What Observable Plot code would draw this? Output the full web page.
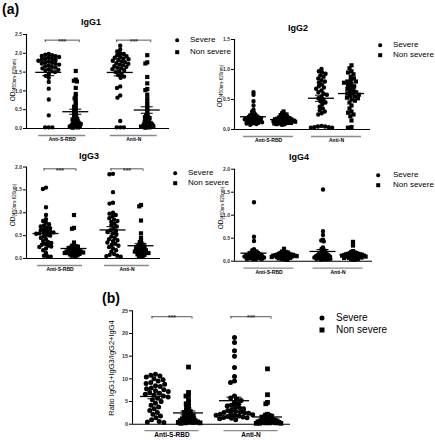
<!DOCTYPE html>
<html><head><meta charset="utf-8">
<script src="https://cdn.jsdelivr.net/npm/d3@7"></script>
<script src="https://cdn.jsdelivr.net/npm/@observablehq/plot@0.6"></script>
<style>
html,body{margin:0;padding:0;background:#fff}
#root{position:relative;width:435px;height:440px;overflow:hidden;font-family:"Liberation Sans",Arial,Helvetica,sans-serif;color:#000;background:#fff}
.c{position:absolute;white-space:nowrap;transform:translate(-50%,-50%);line-height:1}
.l{position:absolute;white-space:nowrap;transform:translateY(-50%);line-height:1}
.r{position:absolute;white-space:nowrap;transform:translate(-50%,-50%) rotate(-90deg);line-height:1}
</style></head><body><div id="root"></div>
<script>
// ---------- categories & labels ----------
const antigens = ["Anti-S-RBD", "Anti-N"];
const severities = ["Severe", "Non severe"];
const panelTitles = ["IgG1", "IgG2", "IgG3", "IgG4"];
const odLabelMain = "OD";
const odLabelSub = "(450nm-620nm)";
const ratioLabel = "Ratio IgG1+IgG3/IgG2+IgG4";
const odTicks_25 = [0, 0.5, 1.0, 1.5, 2.0, 2.5];
const odTicks_15 = [0, 0.5, 1.0, 1.5];
const odTicks_20 = [0, 0.5, 1.0, 1.5, 2.0];
const ratioTicks = [0, 5, 10, 15, 20, 25];
const sig_IgG1 = ["***", "***"];
const sig_IgG3 = ["***", "***"];
const sig_ratio = ["***", "***"];

// ---------- values ----------
const igg1_rbd_severe = [1.98,1.96,1.95,1.93,1.92,1.90,1.88,1.86,1.85,1.83,1.82,1.80,1.78,1.76,1.75,1.73,1.72,1.70,1.68,1.66,1.64,1.62,1.60,1.58,1.56,1.54,1.52,1.50,1.45,1.40,1.35,1.24,1.06,0.77,0.35,0.03,0.03,0.03];
const igg1_rbd_nonsevere = [1.53,1.30,1.27,1.25,1.08,0.92,0.85,0.80,0.75,0.68,0.62,0.58,0.52,0.48,0.44,0.40,0.37,0.34,0.31,0.28,0.26,0.24,0.22,0.20,0.18,0.16,0.15,0.13,0.12,0.10,0.09,0.08,0.07,0.06,0.05,0.04,0.03,0.02];
const igg1_n_severe = [2.20,2.10,2.05,2.00,1.98,1.95,1.92,1.90,1.88,1.86,1.84,1.82,1.80,1.78,1.76,1.74,1.72,1.70,1.68,1.66,1.64,1.62,1.60,1.58,1.55,1.52,1.50,1.45,1.42,1.38,1.35,1.12,1.08,0.88,0.82,0.20,0.03,0.03,0.03];
const igg1_n_nonsevere = [1.95,1.76,1.73,1.37,1.20,1.05,1.02,0.90,0.80,0.72,0.65,0.58,0.52,0.46,0.40,0.35,0.32,0.30,0.28,0.26,0.24,0.22,0.20,0.18,0.16,0.15,0.14,0.12,0.11,0.10,0.09,0.08,0.07,0.06,0.05,0.04,0.03,0.02];

const igg2_rbd_severe = [0.62,0.58,0.47,0.40,0.33,0.30,0.28,0.26,0.25,0.24,0.23,0.22,0.21,0.21,0.20,0.20,0.19,0.19,0.18,0.18,0.17,0.17,0.16,0.16,0.15,0.15,0.14,0.14,0.13,0.13,0.12,0.12,0.11,0.11,0.10,0.10,0.09,0.08];
const igg2_rbd_nonsevere = [0.30,0.27,0.26,0.25,0.24,0.23,0.22,0.21,0.20,0.20,0.19,0.19,0.18,0.18,0.17,0.17,0.16,0.16,0.15,0.15,0.15,0.14,0.14,0.14,0.13,0.13,0.12,0.12,0.12,0.11,0.11,0.10,0.10,0.09,0.09,0.08];
const igg2_n_severe = [1.01,0.97,0.95,0.93,0.90,0.88,0.85,0.82,0.80,0.78,0.75,0.72,0.70,0.68,0.65,0.62,0.60,0.58,0.55,0.52,0.50,0.47,0.45,0.42,0.38,0.35,0.32,0.30,0.27,0.25,0.06,0.05,0.05,0.04,0.04,0.03,0.03];
const igg2_n_nonsevere = [1.07,1.02,0.97,0.95,0.92,0.88,0.85,0.82,0.80,0.80,0.78,0.76,0.74,0.72,0.70,0.68,0.66,0.64,0.62,0.60,0.60,0.58,0.56,0.55,0.53,0.52,0.50,0.48,0.45,0.40,0.35,0.30,0.28,0.25,0.22,0.15,0.04,0.03];

const igg3_rbd_severe = [1.55,1.52,1.12,0.95,0.86,0.82,0.78,0.75,0.72,0.70,0.68,0.66,0.64,0.62,0.60,0.58,0.57,0.56,0.55,0.54,0.52,0.50,0.48,0.45,0.42,0.38,0.36,0.34,0.32,0.30,0.28,0.26,0.25,0.22,0.18,0.12,0.06,0.05,0.04];
const igg3_rbd_nonsevere = [0.95,0.67,0.65,0.35,0.30,0.28,0.27,0.26,0.25,0.24,0.23,0.22,0.21,0.20,0.19,0.18,0.18,0.17,0.16,0.16,0.15,0.15,0.14,0.14,0.13,0.13,0.12,0.12,0.11,0.10,0.10,0.09,0.08,0.07,0.06,0.05];
const igg3_n_severe = [1.85,1.84,1.45,1.22,1.20,1.00,0.98,0.95,0.92,0.88,0.85,0.82,0.80,0.76,0.72,0.70,0.66,0.62,0.60,0.58,0.55,0.52,0.48,0.45,0.42,0.40,0.38,0.35,0.32,0.30,0.28,0.25,0.22,0.18,0.15,0.10,0.08,0.06,0.05,0.04];
const igg3_n_nonsevere = [1.17,1.14,0.83,0.55,0.45,0.40,0.36,0.33,0.31,0.30,0.28,0.27,0.26,0.25,0.24,0.23,0.22,0.21,0.20,0.19,0.18,0.17,0.16,0.15,0.15,0.14,0.13,0.12,0.12,0.11,0.10,0.09,0.08,0.07,0.05,0.04];

const igg4_rbd_severe = [1.28,0.53,0.44,0.26,0.24,0.22,0.21,0.20,0.19,0.18,0.17,0.16,0.16,0.15,0.15,0.14,0.14,0.13,0.13,0.12,0.12,0.11,0.11,0.10,0.10,0.10,0.09,0.09,0.08,0.08,0.07,0.07,0.06,0.06,0.05,0.05,0.04,0.04];
const igg4_rbd_nonsevere = [0.27,0.22,0.21,0.20,0.19,0.18,0.17,0.16,0.16,0.15,0.15,0.14,0.14,0.14,0.13,0.13,0.13,0.12,0.12,0.12,0.11,0.11,0.11,0.10,0.10,0.10,0.09,0.09,0.08,0.08,0.07,0.07,0.06,0.05,0.04,0.03];
const igg4_n_severe = [1.56,0.65,0.57,0.47,0.45,0.43,0.30,0.27,0.25,0.23,0.22,0.20,0.19,0.18,0.17,0.16,0.15,0.15,0.14,0.13,0.13,0.12,0.12,0.11,0.11,0.10,0.10,0.09,0.09,0.08,0.08,0.07,0.07,0.06,0.06,0.05,0.05,0.04,0.04,0.03];
const igg4_n_nonsevere = [0.42,0.34,0.22,0.20,0.19,0.18,0.17,0.17,0.16,0.16,0.15,0.15,0.14,0.14,0.14,0.13,0.13,0.12,0.12,0.12,0.11,0.11,0.11,0.10,0.10,0.10,0.09,0.09,0.08,0.08,0.07,0.07,0.06,0.05,0.04,0.03];

const ratio_rbd_severe = [11.0,10.8,10.6,10.4,10.0,9.8,9.5,9.2,9.0,8.8,8.5,8.3,8.0,7.8,7.6,7.4,7.2,7.0,6.8,6.6,6.4,6.2,6.0,5.7,5.4,5.0,4.6,4.2,3.8,3.4,3.0,2.6,2.2,1.8,1.4,1.0,0.6,0.5,0.4];
const ratio_rbd_nonsevere = [12.6,7.0,6.4,6.2,5.4,4.8,4.5,4.0,3.6,3.3,3.0,2.8,2.6,2.4,2.2,2.0,1.9,1.8,1.6,1.5,1.4,1.3,1.2,1.1,1.0,0.9,0.8,0.8,0.7,0.6,0.5,0.5,0.4,0.4,0.3,0.3,0.2];
const ratio_n_severe = [19.1,18.0,16.2,15.0,12.5,10.5,9.5,9.2,6.2,5.8,5.5,5.2,4.8,4.5,4.2,4.0,3.8,3.6,3.4,3.2,3.0,2.8,2.7,2.6,2.5,2.4,2.3,2.2,2.1,2.0,1.9,1.8,1.7,1.6,1.5,1.4,1.3,1.2,1.0];
const ratio_n_nonsevere = [12.2,6.5,4.8,4.5,2.2,2.0,1.9,1.8,1.7,1.6,1.5,1.4,1.3,1.2,1.1,1.0,1.0,0.9,0.9,0.8,0.8,0.7,0.7,0.6,0.6,0.5,0.5,0.5,0.4,0.4,0.3,0.3,0.3,0.2,0.2,0.2];

// ---------- layout ----------
const root = document.getElementById("root");
function div(cls, html, x, y, css) {
  const d = document.createElement("div");
  d.className = cls; d.innerHTML = html;
  d.style.left = x + "px"; d.style.top = y + "px";
  Object.assign(d.style, css || {});
  root.appendChild(d);
  return d;
}

// swarm: half collision distance per group [antigen][severity] (lets dots overlap like the original)
const coreR = 1.0; // radius used by the dodge; the visible size comes from the stroke
const panels = [
  {title: panelTitles[0], titleAt: [91, 22], series: [[igg1_rbd_severe, igg1_rbd_nonsevere], [igg1_n_severe, igg1_n_nonsevere]],
   box: [0, 0, 172, 150], m: [34, 3, 22, 26], yMax: 2.5, ticks: odTicks_25, fmt: ".1f", sig: sig_IgG1, bracketY: 2.35, bracketHW: 17,
   dx: 13.5, r: 2.2, swarm: [[1.8, 1.1], [1.8, 1.1]], meanW: 26, capW: 12, lineW: 47, lineDy: 7, fxPad: 9, xFont: 5, tickFont: 5,
   ylab: "od", ylabAt: [10, 80], legend: [177, 190, [40, 52], 8, 3.6]},
  {title: panelTitles[1], titleAt: [298, 28], series: [[igg2_rbd_severe, igg2_rbd_nonsevere], [igg2_n_severe, igg2_n_nonsevere]],
   box: [200, 0, 175, 150], m: [39, 5, 21, 34], yMax: 1.5, ticks: odTicks_15, fmt: ".1f", sig: null,
   dx: 15, r: 2.2, swarm: [[1.15, 1.15], [1.8, 1.8]], meanW: 26, capW: 12, lineW: 50, lineDy: 7, fxPad: 9, xFont: 5, tickFont: 5,
   ylab: "od", ylabAt: [217, 86], legend: [380, 393, [45, 55], 8, 3.6]},
  {title: panelTitles[2], titleAt: [89, 156], series: [[igg3_rbd_severe, igg3_rbd_nonsevere], [igg3_n_severe, igg3_n_nonsevere]],
   box: [0, 140, 165, 140], m: [26.5, 5, 22, 26], yMax: 2.0, ticks: odTicks_20, fmt: ".1f", sig: sig_IgG3, bracketY: 1.96, bracketHW: 16,
   dx: 14, r: 2.2, swarm: [[1.7, 1.1], [1.8, 1.1]], meanW: 26, capW: 12, lineW: 45, lineDy: 7, fxPad: 9, xFont: 5, tickFont: 5,
   ylab: "od", ylabAt: [10, 205], legend: [175, 188, [173, 183], 8, 3.6]},
  {title: panelTitles[3], titleAt: [299, 157], series: [[igg4_rbd_severe, igg4_rbd_nonsevere], [igg4_n_severe, igg4_n_nonsevere]],
   box: [200, 140, 177, 145], m: [28.7, 5, 24.3, 34], yMax: 2.0, ticks: odTicks_20, fmt: ".1f", sig: null,
   dx: 15, r: 2.2, swarm: [[1.0, 1.0], [1.0, 1.0]], meanW: 26, capW: 12, lineW: 50, lineDy: 7, fxPad: 9, xFont: 5, tickFont: 5,
   ylab: "od", ylabAt: [218, 208], legend: [378, 393, [175, 185], 8, 3.6]},
  {title: null, series: [[ratio_rbd_severe, ratio_rbd_nonsevere], [ratio_n_severe, ratio_n_nonsevere]],
   box: [100, 290, 195, 150], m: [20.3, 5, 16.3, 32], yMax: 25, ticks: ratioTicks, fmt: "d", sig: sig_ratio, bracketY: 23.7, bracketHW: 20,
   dx: 16.5, r: 2.5, swarm: [[2.4, 1.35], [2.1, 1.1]], meanW: 30, capW: 15, lineW: 54, lineDy: 6.5, fxPad: 8.5, xFont: 6.5, tickFont: 5.5,
   ylab: "ratio", ylabAt: [112, 368], legend: [322, 336, [318, 330], 10, 5]}
];

const symbolOf = {"Severe": "circle", "Non severe": "square"};

function drawPanel(p) {
  const [left, top, width, height] = p.box;
  const [mT, mR, mB, mL] = p.m;
  const fw = (width - mL - mR) / 2;
  const off = {"Severe": -p.dx, "Non severe": p.dx};
  const marks = [
    Plot.ruleY([0], {strokeWidth: 1.1}),
    Plot.ruleX([antigens[0]], {x: null, fx: d => d, y1: 0, y2: p.yMax, dx: -fw / 2, strokeWidth: 1.1}),
    Plot.axisY({ticks: p.ticks, tickFormat: d3.format(p.fmt), tickSize: 3, tickPadding: 1.5, fontSize: p.tickFont, fontWeight: "bold", fill: "#333", label: null}),
    Plot.ruleY([0], {dy: p.lineDy, insetLeft: (fw - p.lineW) / 2, insetRight: (fw - p.lineW) / 2, stroke: "#8a8a8a", strokeWidth: 1.3}),
    Plot.text(antigens, {fx: d => d, text: d => d, frameAnchor: "bottom", lineAnchor: "top", dy: p.fxPad, fontSize: p.xFont, fontWeight: "bold"})
  ];
  antigens.forEach((a, ai) => severities.forEach((s, si) => {
    const vals = p.series[ai][si];
    const rows = vals.map(v => ({antigen: a, severity: s, v}));
    const mean = d3.mean(vals), sem = d3.deviation(vals) / Math.sqrt(vals.length);
    const st = [{antigen: a, mean, lo: mean - sem, hi: mean + sem}];
    marks.push(Plot.dot(rows,
      Plot.dodgeX({anchor: "middle", padding: 2 * (p.swarm[ai][si] - coreR)},
        {y: "v", fx: "antigen", r: coreR, symbol: symbolOf[s], fill: "black", stroke: "black",
         strokeWidth: 2 * (p.r - coreR), strokeLinejoin: "miter", dx: off[s]})));
    marks.push(Plot.tickY(st, {fx: "antigen", y: "mean", dx: off[s], insetLeft: (fw - p.meanW) / 2, insetRight: (fw - p.meanW) / 2, strokeWidth: 1.3}));
    marks.push(Plot.ruleX(st, {x: null, fx: "antigen", y1: "lo", y2: "hi", dx: off[s], strokeWidth: 1}));
    marks.push(Plot.tickY(st, {fx: "antigen", y: "lo", dx: off[s], insetLeft: (fw - p.capW) / 2, insetRight: (fw - p.capW) / 2, strokeWidth: 1}));
    marks.push(Plot.tickY(st, {fx: "antigen", y: "hi", dx: off[s], insetLeft: (fw - p.capW) / 2, insetRight: (fw - p.capW) / 2, strokeWidth: 1}));
  }));
  if (p.sig) {
    const sigRows = antigens.map((a, i) => ({antigen: a, label: p.sig[i]}));
    const bi = (fw - 2 * p.bracketHW) / 2;
    marks.push(Plot.ruleY(sigRows, {fx: "antigen", y: p.bracketY, insetLeft: bi, insetRight: bi, stroke: "#444", strokeWidth: 0.9}));
    for (const sgn of [-1, 1]) {
      marks.push(Plot.ruleX(sigRows, {x: null, fx: "antigen", y1: p.bracketY, y2: p.bracketY, insetBottom: -2.5, dx: sgn * p.bracketHW, stroke: "#444", strokeWidth: 0.9}));
    }
    marks.push(Plot.text(sigRows, {fx: "antigen", y: p.bracketY, text: "label", lineAnchor: "middle", dy: 1.5, fontSize: 7, fontWeight: "bold", fill: "#333"}));
  }
  const svg = Plot.plot({
    width, height, marginTop: mT, marginRight: mR, marginBottom: mB, marginLeft: mL,
    x: {axis: null},
    y: {domain: [0, p.yMax], nice: false},
    fx: {domain: antigens, padding: 0, round: false, axis: null},
    style: {background: "transparent", overflow: "visible", fontFamily: "Liberation Sans, Arial, sans-serif", color: "black"},
    marks
  });
  svg.style.position = "absolute";
  svg.style.left = left + "px";
  svg.style.top = top + "px";
  root.appendChild(svg);

  if (p.title) div("c", p.title, p.titleAt[0], p.titleAt[1], {fontSize: "9px", fontWeight: "bold"});
  if (p.ylab === "od") {
    div("r", `<span style="font-size:6.5px">${odLabelMain}</span><sub style="font-size:4.6px;vertical-align:-1.5px">${odLabelSub}</sub>`, p.ylabAt[0], p.ylabAt[1], {});
  } else {
    div("r", ratioLabel, p.ylabAt[0], p.ylabAt[1], {fontSize: "7.5px"});
  }
  const [sx, tx, ys, fs, sz] = p.legend;
  severities.forEach((s, i) => {
    div("c", "", sx, ys[i], {width: sz + "px", height: sz + "px", background: "#000", borderRadius: s === "Severe" ? "50%" : "0"});
    div("l", s, tx, ys[i], {fontSize: fs + "px"});
  });
}

panels.forEach(drawPanel);
div("l", "(a)", 2, 9, {fontSize: "14px", fontWeight: "bold"});
div("l", "(b)", 102, 298, {fontSize: "14px", fontWeight: "bold"});
</script></body></html>
